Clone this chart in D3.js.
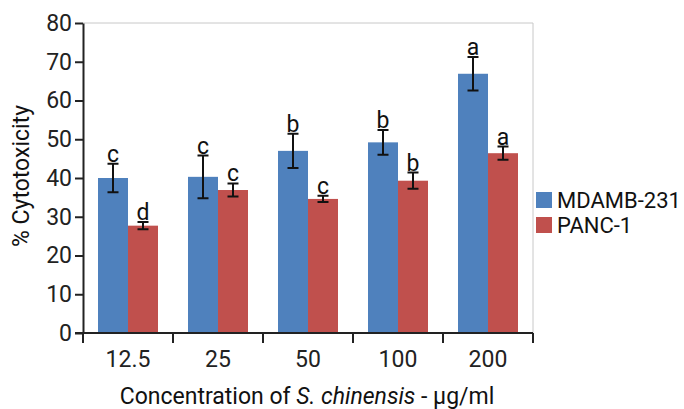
<!DOCTYPE html>
<html lang="en">
<head>
<meta charset="UTF-8">
<title>Cytotoxicity</title>
<style>
body{margin:0;background:#fff}
svg{font-family:Roboto,"Noto Sans",sans-serif}
</style>
</head>
<body>
<svg width="684" height="409"></svg>
<script src="https://cdn.jsdelivr.net/npm/d3@7"></script>
<script>
// data
var concentrations=['12.5','25','50','100','200']
var seriesNames=['MDAMB-231','PANC-1']
var mdamb=[40.0,40.3,47.0,49.2,66.9]
var mdambErr=[3.7,5.5,4.4,3.2,4.3]
var panc=[27.7,36.9,34.6,39.3,46.4]
var pancErr=[0.95,1.7,0.8,2.1,1.7]
var mdambLetters=['c','c','b','b','a']
var pancLetters=['d','c','c','b','a']
var yTicks=[0,10,20,30,40,50,60,70,80]
var colors=['#4f81bd','#c0504d']

var margin={top:23,right:151,bottom:76,left:83}
var width=684,height=409
var fs=23
var svg=d3.select('svg')

var rows=concentrations.map((c,i)=>({conc:c,vals:[
  {s:0,v:mdamb[i],e:mdambErr[i],l:mdambLetters[i]},
  {s:1,v:panc[i],e:pancErr[i],l:pancLetters[i]}]}))

var x0=d3.scaleBand().domain(concentrations).range([margin.left,width-margin.right]).paddingInner(1/3).paddingOuter(1/6)
var x1=d3.scaleBand().domain([0,1]).range([0,x0.bandwidth()])
var y=d3.scaleLinear().domain([0,80]).range([height-margin.bottom,margin.top])
var step=x0.step()
var left=margin.left,right=width-margin.right

// plot area border (top / right)
svg.append('path').attr('fill','none').attr('stroke','#c8c8c8').attr('stroke-width',1)
  .attr('d',`M${left},${y(80)}H${right}V${y(0)}`)

var g=svg.selectAll('.grp').data(rows).join('g').attr('class','grp')
  .attr('transform',d=>`translate(${x0(d.conc)},0)`)

g.selectAll('rect').data(d=>d.vals).join('rect')
  .attr('x',d=>x1(d.s)).attr('width',x1.bandwidth())
  .attr('y',d=>y(d.v)).attr('height',d=>y(0)-y(d.v))
  .attr('fill',d=>colors[d.s])

// error bars
var eb=g.selectAll('.err').data(d=>d.vals).join('g').attr('class','err')
  .attr('transform',d=>`translate(${x1(d.s)+x1.bandwidth()/2},0)`)
eb.append('path').attr('fill','none').attr('stroke','#111').attr('stroke-width',2)
  .attr('d',d=>`M0,${y(d.v+d.e)}V${y(d.v-d.e)}M-5.5,${y(d.v+d.e)}h11M-5.5,${y(d.v-d.e)}h11`)
eb.append('text').attr('text-anchor','middle').attr('y',d=>y(d.v+d.e)-2)
  .attr('font-size',fs).attr('fill','#111').text(d=>d.l)

// axes
var yAxis=svg.append('g').attr('transform',`translate(${left},0)`)
  .call(d3.axisLeft(y).tickValues(yTicks).tickSize(8).tickSizeOuter(0).tickPadding(3))
yAxis.select('.domain').attr('stroke','#222').attr('stroke-width',2)
yAxis.selectAll('.tick line').attr('stroke','#222').attr('stroke-width',2)
yAxis.selectAll('text').attr('font-size',fs).attr('fill','#222').attr('font-family','Roboto')

var xAxis=svg.append('g').attr('transform',`translate(0,${y(0)})`)
xAxis.append('path').attr('stroke','#222').attr('stroke-width',2).attr('d',`M${left-8},0H${right}`)
var bounds=d3.range(concentrations.length+1).map(i=>left+i*step)
xAxis.selectAll('.xt').data(bounds).join('line').attr('class','xt')
  .attr('x1',d=>d).attr('x2',d=>d).attr('y1',0).attr('y2',10).attr('stroke','#222').attr('stroke-width',2)
xAxis.selectAll('.xl').data(concentrations).join('text').attr('class','xl')
  .attr('x',d=>x0(d)+x0.bandwidth()/2).attr('y',34).attr('text-anchor','middle')
  .attr('font-size',fs).attr('fill','#222').text(d=>d)

// titles
var xt=svg.append('text').attr('x',(left+right)/2-1).attr('y',404).attr('text-anchor','middle')
  .attr('font-size',fs).attr('fill','#111')
xt.append('tspan').text('Concentration of ')
xt.append('tspan').attr('font-style','italic').text('S. chinensis')
xt.append('tspan').text(' - µg/ml')

svg.append('text').attr('transform',`translate(29,${(y(0)+y(80))/2-2}) rotate(-90)`)
  .attr('text-anchor','middle').attr('font-size',fs).attr('fill','#111').text('% Cytotoxicity')

// legend
var lg=svg.selectAll('.lg').data(seriesNames).join('g').attr('class','lg')
  .attr('transform',(d,i)=>`translate(536,${192+i*25})`)
lg.append('rect').attr('width',16).attr('height',16).attr('fill',(d,i)=>colors[i])
lg.append('text').attr('x',21).attr('y',16).attr('font-size',22).attr('fill','#111').text(d=>d)
</script>
</body>
</html>
